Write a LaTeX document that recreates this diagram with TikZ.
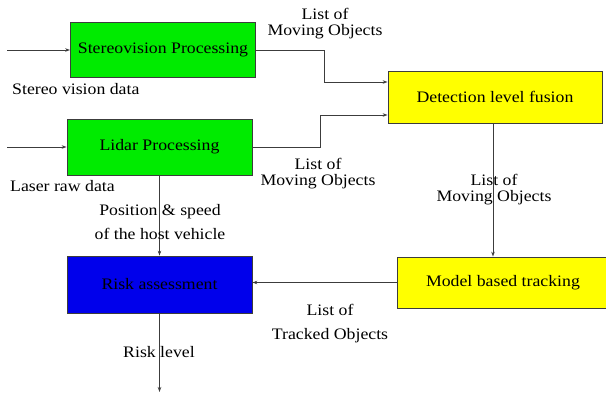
\documentclass[tikz,border=0pt]{standalone}
\usepackage{fontspec}
\setmainfont{Liberation Serif}[FakeStretch=1.11]
\usetikzlibrary{arrows.meta}
\definecolor{boxgreen}{RGB}{0,235,0}
\definecolor{boxyellow}{RGB}{255,255,0}
\definecolor{boxblue}{RGB}{0,0,235}
\definecolor{linegray}{RGB}{60,60,60}
\begin{document}
\begin{tikzpicture}[x=1pt,y=-1pt,
  every node/.style={font=\fontsize{16}{16}\selectfont},
  block/.style={draw=linegray,line width=0.8pt,minimum width=#1,inner sep=0pt,anchor=center},
  flow/.style={draw=linegray,line width=0.8pt,-{Stealth[length=5pt,width=3.5pt]}},
  lbl/.style={align=center,inner sep=0pt},
  lblwide/.style={align=center,inner sep=0pt,font=\fontsize{16}{23.5}\selectfont}]
\useasboundingbox (0,0) rectangle (606,394);
% blocks
\node[block=185pt,minimum height=55pt,fill=boxgreen] (stereo) at (163,50) {Stereovision Processing};
\node[block=185pt,minimum height=56pt,fill=boxgreen] (lidar) at (159.5,147) {Lidar Processing};
\node[block=214pt,minimum height=52pt,fill=boxyellow] (det) at (495,97) {Detection level fusion};
\node[block=212pt,minimum height=51pt,fill=boxyellow] (model) at (503,282.5) {Model based tracking};
\node[block=185pt,minimum height=57pt,fill=boxblue] (risk) at (159.5,284.5) {Risk assessment};
% free ends and bends
\coordinate (in1) at (7,50);
\coordinate (in2) at (7,147);
\coordinate (c1) at (324,82);
\coordinate (c2) at (320,115);
\coordinate (out) at (159.5,392);
% connectors
\draw[flow] (in1) -- (stereo.west);
\draw[flow] (in2) -- (lidar.west);
\draw[flow] (stereo.east) -| (c1) -- (c1 -| det.west);
\draw[flow] (lidar.east) -| (c2) -- (c2 -| det.west);
\draw[flow] ([xshift=-2pt]det.south) -- ([xshift=-2pt]det.south |- model.north);
\draw[flow] (model.west) -- (model.west -| risk.east);
\draw[flow] (lidar.south) -- (risk.north);
\draw[flow] (risk.south) -- (out);
% labels
\node[lbl,anchor=west] (l1) at (12,89) {Stereo vision data};
\node[lbl,anchor=west] (l2) at (10,186) {Laser raw data};
\node[lbl] (l3) at (325,24) {List of\\Moving Objects};
\node[lbl] (l4) at (318,173.5) {List of\\Moving Objects};
\node[lbl] (l5) at (494,190) {List of\\Moving Objects};
\node[lblwide] (l6) at (330,323.5) {List of\\Tracked Objects};
\node[lblwide] (l7) at (160,222) {Position \& speed\\of the host vehicle};
\node[lbl] (l8) at (159,352) {Risk level};
\end{tikzpicture}
\end{document}
